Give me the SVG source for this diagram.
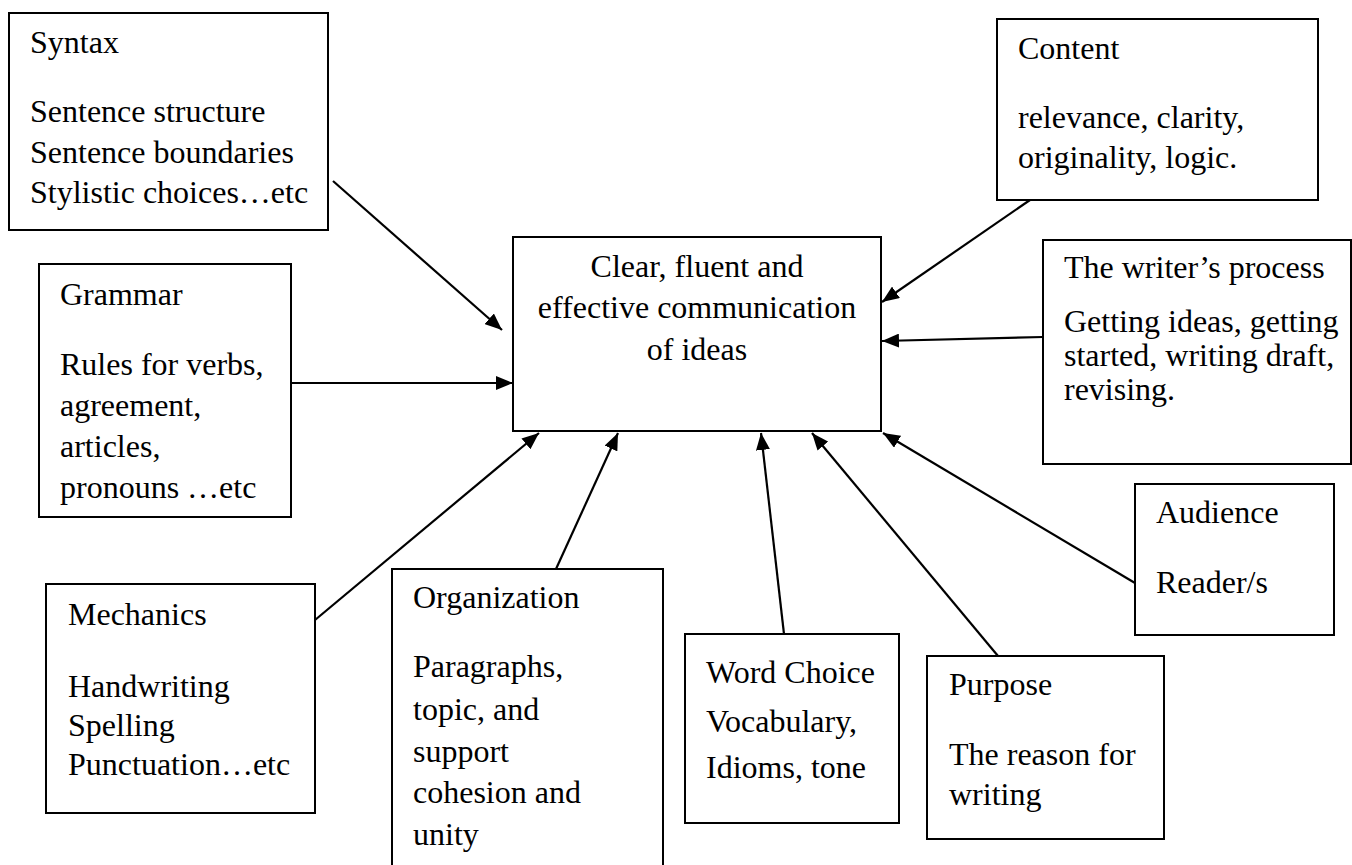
<svg xmlns="http://www.w3.org/2000/svg" width="1352" height="865" viewBox="0 0 1352 865">
<style>
.box{fill:#fff;stroke:#000;stroke-width:2}
text{font-family:"Liberation Serif","Times New Roman",serif;font-size:32px;fill:#000}
.c{text-anchor:middle}
.conn line{stroke:#000;stroke-width:2.2;marker-end:url(#ah)}
</style>
<defs>
<marker id="ah" markerUnits="userSpaceOnUse" markerWidth="18" markerHeight="14" refX="17" refY="7" orient="auto">
<path d="M0,0 L17,7 L0,14 z" fill="#000"/>
</marker>
</defs>
<rect width="1352" height="865" fill="#fff"/>
<g id="central">
<rect class="box" x="513" y="237" width="368" height="194"/>
<text class="c" x="697" y="277">Clear, fluent and</text>
<text class="c" x="697" y="318">effective communication</text>
<text class="c" x="697" y="360">of ideas</text>
</g>
<g id="syntax">
<rect class="box" x="9" y="13" width="319" height="217"/>
<text x="30" y="53">Syntax</text>
<text x="30" y="122">Sentence structure</text>
<text x="30" y="163">Sentence boundaries</text>
<text x="30" y="203">Stylistic choices…etc</text>
</g>
<g id="grammar">
<rect class="box" x="39" y="264" width="252" height="253"/>
<text x="60" y="305">Grammar</text>
<text x="60" y="375">Rules for verbs,</text>
<text x="60" y="416">agreement,</text>
<text x="60" y="457">articles,</text>
<text x="60" y="498">pronouns …etc</text>
</g>
<g id="mechanics">
<rect class="box" x="46" y="584" width="269" height="229"/>
<text x="68" y="625">Mechanics</text>
<text x="68" y="697">Handwriting</text>
<text x="68" y="736">Spelling</text>
<text x="68" y="775">Punctuation…etc</text>
</g>
<g id="organization">
<rect class="box" x="392" y="569" width="271" height="310"/>
<text x="413" y="608">Organization</text>
<text x="413" y="677">Paragraphs,</text>
<text x="413" y="720">topic, and</text>
<text x="413" y="762">support</text>
<text x="413" y="803">cohesion and</text>
<text x="413" y="845">unity</text>
</g>
<g id="wordchoice">
<rect class="box" x="685" y="634" width="214" height="189"/>
<text x="706" y="683">Word Choice</text>
<text x="706" y="732">Vocabulary,</text>
<text x="706" y="778">Idioms, tone</text>
</g>
<g id="purpose">
<rect class="box" x="927" y="656" width="237" height="183"/>
<text x="949" y="695">Purpose</text>
<text x="949" y="765">The reason for</text>
<text x="949" y="805">writing</text>
</g>
<g id="audience">
<rect class="box" x="1135" y="484" width="199" height="151"/>
<text x="1156" y="523">Audience</text>
<text x="1156" y="593">Reader/s</text>
</g>
<g id="writer">
<rect class="box" x="1043" y="240" width="308" height="224"/>
<text x="1064" y="278">The writer’s process</text>
<text x="1064" y="332">Getting ideas, getting</text>
<text x="1064" y="366">started, writing draft,</text>
<text x="1064" y="400">revising.</text>
</g>
<g id="content">
<rect class="box" x="997" y="19" width="321" height="181"/>
<text x="1018" y="59">Content</text>
<text x="1018" y="128">relevance, clarity,</text>
<text x="1018" y="168">originality, logic.</text>
</g>
<g id="connectors" class="conn">
<line x1="333" y1="181" x2="502" y2="330"/>
<line x1="291" y1="383" x2="513" y2="383"/>
<line x1="315" y1="620" x2="539" y2="433"/>
<line x1="556" y1="569" x2="618" y2="433"/>
<line x1="784" y1="634" x2="761" y2="433"/>
<line x1="998" y1="656" x2="812" y2="433"/>
<line x1="1135" y1="583" x2="883" y2="433"/>
<line x1="1043" y1="337" x2="882" y2="341"/>
<line x1="1030" y1="200" x2="882" y2="302"/>
</g>
</svg>
